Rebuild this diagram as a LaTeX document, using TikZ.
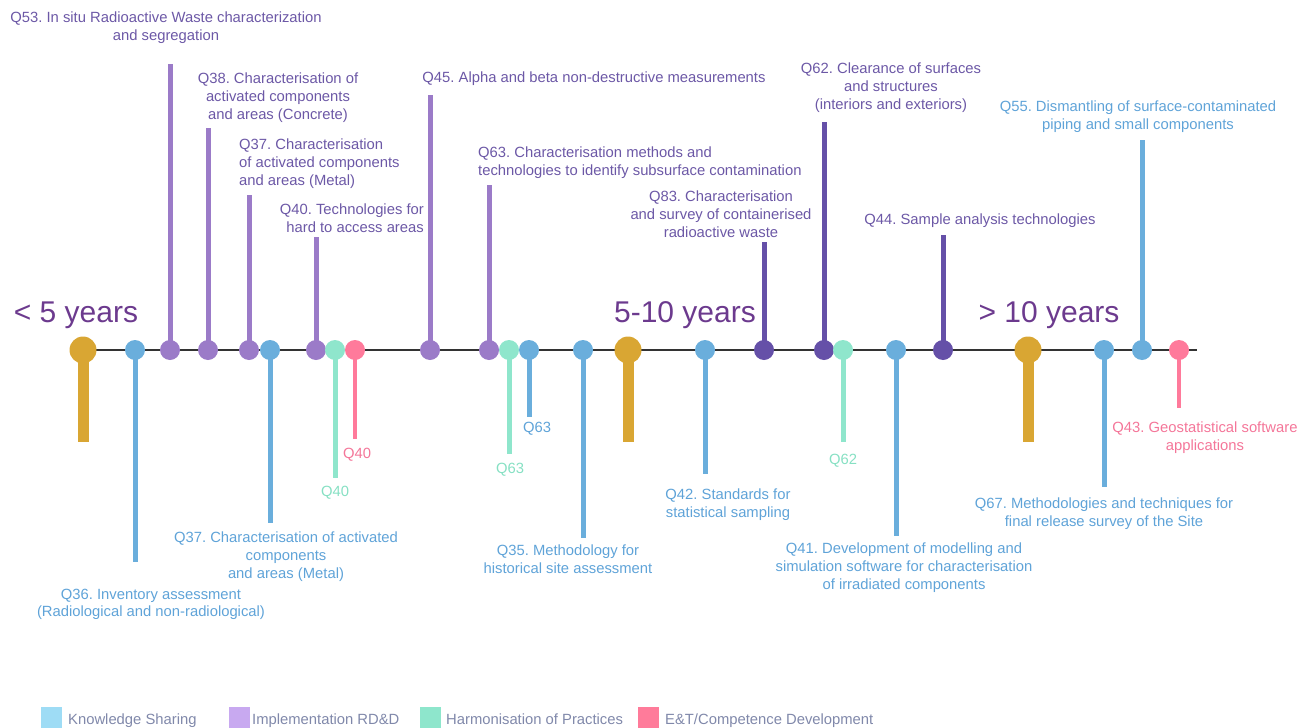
\documentclass[tikz,border=0pt]{standalone}
\usepackage{fontspec}
\setmainfont{Liberation Sans}
\definecolor{cGold}{HTML}{D9A633}
\definecolor{cBlue}{HTML}{6AAEDC}
\definecolor{cBlueT}{HTML}{5FA3D8}
\definecolor{cPur}{HTML}{9B7BC8}
\definecolor{cDPur}{HTML}{6550A8}
\definecolor{cPurT}{HTML}{6C58A6}
\definecolor{cGrn}{HTML}{8FE6CC}
\definecolor{cGrnT}{HTML}{86E0C3}
\definecolor{cPink}{HTML}{FF7A9B}
\definecolor{cPinkT}{HTML}{F47699}
\definecolor{cPer}{HTML}{6C3A8E}
\definecolor{cTL}{HTML}{333333}
\definecolor{cLeg}{HTML}{8088AA}
\definecolor{cKS}{HTML}{9EDCF5}
\definecolor{cID}{HTML}{C8A9F0}
\definecolor{cHP}{HTML}{8EE6CC}
\definecolor{cET}{HTML}{FF7B9A}
\pgfdeclarelayer{bg}
\pgfsetlayers{bg,main}
\frenchspacing
\begin{document}
\frenchspacing
\begin{tikzpicture}[x=1pt,y=-1pt,
  lbl/.style={font=\frenchspacing\fontsize{14.8}{17.8}\selectfont, inner sep=0pt, align=center, anchor=north},
  lblL/.style={lbl, align=left, anchor=north west},
  lblR/.style={lbl, align=right, anchor=north east},
  dot/.style={circle, inner sep=0pt, minimum size=20pt},
  bigdot/.style={circle, inner sep=0pt, minimum size=27pt, fill=cGold},
  stem/.style={line width=5pt},
  goldstem/.style={line width=11pt, cGold},
  period/.style={font=\fontsize{30}{34}\selectfont, text=cPer, inner sep=0pt, anchor=base},
  legbox/.style={inner sep=0pt, minimum width=21pt, minimum height=21pt},
  legtxt/.style={font=\fontsize{14.8}{17}\selectfont, text=cLeg, inner sep=0pt, anchor=base west}
]
\useasboundingbox (0,0) rectangle (1301,728);

% timeline ends
\coordinate (tl0) at (75,350);
\coordinate (tl1) at (1197,350);

% dots
\node[bigdot] (g1) at (83,350) {};
\node[dot, fill=cBlue] (b1) at (135,350) {};
\node[dot, fill=cPur] (p1) at (170,350) {};
\node[dot, fill=cPur] (p2) at (208,350) {};
\node[dot, fill=cPur] (p3) at (249,350) {};
\node[dot, fill=cBlue] (b2) at (270,350) {};
\node[dot, fill=cPur] (p4) at (316,350) {};
\node[dot, fill=cGrn] (h1) at (335,350) {};
\node[dot, fill=cPink] (k1) at (355,350) {};
\node[dot, fill=cPur] (p5) at (430,350) {};
\node[dot, fill=cPur] (p6) at (489,350) {};
\node[dot, fill=cGrn] (h2) at (509,350) {};
\node[dot, fill=cBlue] (b3) at (529,350) {};
\node[dot, fill=cBlue] (b4) at (583,350) {};
\node[bigdot] (g2) at (628,350) {};
\node[dot, fill=cBlue] (b5) at (705,350) {};
\node[dot, fill=cDPur] (d1) at (764,350) {};
\node[dot, fill=cDPur] (d2) at (824,350) {};
\node[dot, fill=cGrn] (h3) at (843,350) {};
\node[dot, fill=cBlue] (b6) at (896,350) {};
\node[dot, fill=cDPur] (d3) at (943,350) {};
\node[bigdot] (g3) at (1028,350) {};
\node[dot, fill=cBlue] (b7) at (1104,350) {};
\node[dot, fill=cBlue] (b8) at (1142,350) {};
\node[dot, fill=cPink] (k2) at (1179,350) {};

% stem ends
\coordinate (eg1) at (83,442);
\coordinate (eb1) at (135,562);
\coordinate (ep1) at (170,64);
\coordinate (ep2) at (208,128);
\coordinate (ep3) at (249,195);
\coordinate (eb2) at (270,523);
\coordinate (ep4) at (316,237);
\coordinate (eh1) at (335,478);
\coordinate (ek1) at (355,439);
\coordinate (ep5) at (430,95);
\coordinate (ep6) at (489,185);
\coordinate (eh2) at (509,454);
\coordinate (eb3) at (529,417);
\coordinate (eb4) at (583,538);
\coordinate (eg2) at (628,442);
\coordinate (eb5) at (705,474);
\coordinate (ed1) at (764,242);
\coordinate (ed2) at (824,122);
\coordinate (eh3) at (843,442);
\coordinate (eb6) at (896,536);
\coordinate (ed3) at (943,235);
\coordinate (eg3) at (1028,442);
\coordinate (eb7) at (1104,487);
\coordinate (eb8) at (1142,140);
\coordinate (ek2) at (1179,408);

\begin{pgfonlayer}{bg}
  \draw[cTL, line width=2pt] (tl0) -- (tl1);
  \draw[goldstem] (g1.center) -- (eg1);
  \draw[goldstem] (g2.center) -- (eg2);
  \draw[goldstem] (g3.center) -- (eg3);
  \draw[stem, cBlue] (b1.center) -- (eb1);
  \draw[stem, cBlue] (b2.center) -- (eb2);
  \draw[stem, cBlue] (b3.center) -- (eb3);
  \draw[stem, cBlue] (b4.center) -- (eb4);
  \draw[stem, cBlue] (b5.center) -- (eb5);
  \draw[stem, cBlue] (b6.center) -- (eb6);
  \draw[stem, cBlue] (b7.center) -- (eb7);
  \draw[stem, cBlue] (b8.center) -- (eb8);
  \draw[stem, cPur] (p1.center) -- (ep1);
  \draw[stem, cPur] (p2.center) -- (ep2);
  \draw[stem, cPur] (p3.center) -- (ep3);
  \draw[stem, cPur] (p4.center) -- (ep4);
  \draw[stem, cPur] (p5.center) -- (ep5);
  \draw[stem, cPur] (p6.center) -- (ep6);
  \draw[stem, cDPur] (d1.center) -- (ed1);
  \draw[stem, cDPur] (d2.center) -- (ed2);
  \draw[stem, cDPur] (d3.center) -- (ed3);
  \draw[stem, cGrn] (h1.center) -- (eh1);
  \draw[stem, cGrn] (h2.center) -- (eh2);
  \draw[stem, cGrn] (h3.center) -- (eh3);
  \draw[stem, cPink, line width=4pt] (k1.center) -- (ek1);
  \draw[stem, cPink, line width=4pt] (k2.center) -- (ek2);
\end{pgfonlayer}

% period labels
\node[period] (per1) at (76,322) {< 5 years};
\node[period] (per2) at (685,322) {5-10 years};
\node[period] (per3) at (1049,322) {> 10 years};

% upper labels
\node[lbl, text=cPurT] (lq53) at (166,11.5) {Q53. In situ Radioactive Waste characterization\\and segregation};
\node[lbl, text=cPurT] (lq38) at (278,73) {Q38. Characterisation of\\activated components\\and areas (Concrete)};
\node[lblL, text=cPurT] (lq37a) at (239,138.5) {Q37. Characterisation\\of activated components\\and areas (Metal)};
\node[lblR, text=cPurT] (lq40a) at (424,203.5) {Q40. Technologies for\\hard to access areas};
\node[lbl, text=cPurT] (lq45) at (594,71.5) {Q45. Alpha and beta non-destructive measurements};
\node[lblL, text=cPurT] (lq63a) at (478,146.5) {Q63. Characterisation methods and\\technologies to identify subsurface contamination};
\node[lbl, text=cPurT] (lq83) at (721,190.5) {Q83. Characterisation\\and survey of containerised\\radioactive waste};
\node[lbl, text=cPurT] (lq62) at (891,62.5) {Q62. Clearance of surfaces\\and structures\\(interiors and exteriors)};
\node[lbl, text=cBlueT] (lq55) at (1138,100.5) {Q55. Dismantling of surface-contaminated\\piping and small components};
\node[lbl, text=cPurT] (lq44) at (980,213.5) {Q44. Sample analysis technologies};

% lower labels
\node[lbl, text=cPinkT] (lq40k) at (357,447.5) {Q40};
\node[lbl, text=cGrnT] (lq40h) at (335,485.5) {Q40};
\node[lbl, text=cBlueT] (lq37b) at (286,531.5) {Q37. Characterisation of activated\\components\\and areas (Metal)};
\node[lbl, text=cBlueT] (lq36) at (151,588.5) {Q36. Inventory assessment\\(Radiological and non-radiological)};
\node[lbl, text=cBlueT] (lq63b) at (537,421.5) {Q63};
\node[lbl, text=cGrnT] (lq63h) at (510,462.5) {Q63};
\node[lbl, text=cGrnT] (lq62h) at (843,453.5) {Q62};
\node[lbl, text=cBlueT] (lq42) at (728,488.5) {Q42. Standards for\\statistical sampling};
\node[lbl, text=cBlueT] (lq35) at (568,544.5) {Q35. Methodology for\\historical site assessment};
\node[lbl, text=cBlueT] (lq41) at (904,542.5) {Q41. Development of modelling and\\simulation software for characterisation\\of irradiated components};
\node[lbl, text=cBlueT] (lq67) at (1104,497.5) {Q67. Methodologies and techniques for\\final release survey of the Site};
\node[lbl, text=cPinkT] (lq43) at (1205,421.5) {Q43. Geostatistical software\\applications};

% legend
\node[legbox, fill=cKS] (lgk) at (51,717.5) {};
\node[legtxt] (lgkt) at (68,724) {Knowledge Sharing};
\node[legbox, fill=cID] (lgi) at (239.5,717.5) {};
\node[legtxt] (lgit) at (252,724) {Implementation RD\&D};
\node[legbox, fill=cHP] (lgh) at (430.5,717.5) {};
\node[legtxt] (lght) at (446,724) {Harmonisation of Practices};
\node[legbox, fill=cET] (lge) at (648,717.5) {};
\node[legtxt] (lget) at (665,724) {E\&T/Competence Development};
\end{tikzpicture}
\end{document}
